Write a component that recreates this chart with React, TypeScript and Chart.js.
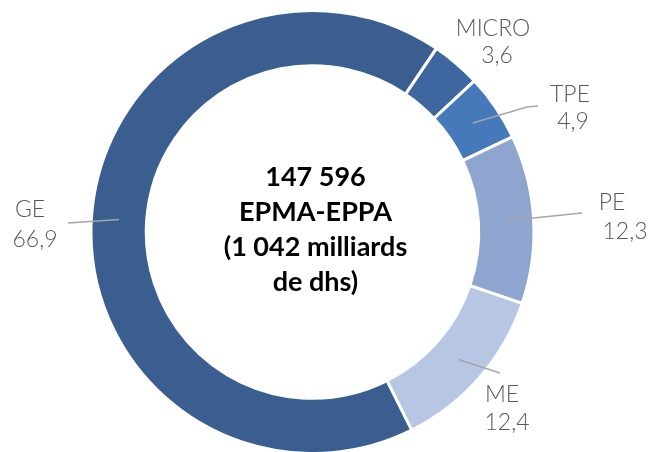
import React, { useEffect, useRef } from "react";
import { Chart, registerables } from "chart.js";

Chart.register(...registerables);

const categories = ["MICRO", "TPE", "PE", "ME", "GE"];
const values = [3.6, 4.9, 12.3, 12.4, 66.9];
const valueLabels = ["3,6", "4,9", "12,3", "12,4", "66,9"];
const colors = ["#3E67A0", "#4679BA", "#8EA6CF", "#B7C6E3", "#3B5E91"];
const centerLines = ["147 596", "EPMA-EPPA", "(1 042 milliards", "de dhs)"];

// label layout, offsets relative to the doughnut centre
const labelLayout = [
  { name: [180.5, -203], value: [184.5, -176], leader: [] as number[][] },
  { name: [257.5, -137], value: [260.5, -110], leader: [[214.5, -125], [225.5, -126]] },
  { name: [299.5, -29], value: [312.5, 0], leader: [[269.5, -19]] },
  { name: [189.5, 163], value: [194.5, 191], leader: [[187.5, 141]] },
  { name: [-282.5, -22], value: [-277.5, 8], leader: [[-244.5, -9]] },
];

const labelPlugin = {
  id: "labelPlugin",
  afterDatasetsDraw(chart: any) {
    const ctx = chart.ctx;
    const meta = chart.getDatasetMeta(0);
    const first = meta.data[0];
    const cx = first.x;
    const cy = first.y;
    ctx.save();
    // leader lines
    ctx.strokeStyle = "#A6A6A6";
    ctx.lineWidth = 1.5;
    meta.data.forEach((arc: any, i: number) => {
      const pts = labelLayout[i].leader;
      if (!pts.length) return;
      const c = arc.getCenterPoint();
      ctx.beginPath();
      ctx.moveTo(c.x, c.y);
      pts.forEach((p) => ctx.lineTo(cx + p[0], cy + p[1]));
      ctx.stroke();
    });
    // labels
    ctx.fillStyle = "#595959";
    ctx.font = "300 23px Lato";
    ctx.textAlign = "center";
    ctx.textBaseline = "middle";
    categories.forEach((name, i) => {
      const l = labelLayout[i];
      ctx.fillText(name, cx + l.name[0], cy + l.name[1]);
      ctx.fillText(valueLabels[i], cx + l.value[0], cy + l.value[1]);
    });
    // centre text
    ctx.fillStyle = "#000000";
    ctx.font = "bold 27px Lato";
    const lh = 35;
    const startY = cy - 55;
    centerLines.forEach((t, i) => {
      ctx.fillText(t, cx + 3, startY + i * lh);
    });
    ctx.restore();
  },
};

export default function App() {
  const ref = useRef<HTMLCanvasElement | null>(null);
  useEffect(() => {
    if (!ref.current) return;
    const chart = new Chart(ref.current, {
      type: "doughnut",
      data: {
        labels: categories,
        datasets: [
          {
            data: values,
            backgroundColor: colors,
            borderColor: "#FFFFFF",
            borderWidth: 3,
          },
        ],
      },
      options: {
        animation: false,
        responsive: false,
        rotation: 34,
        radius: 221.5,
        cutout: 164,
        layout: { padding: { left: 0, right: 27, top: 12, bottom: 0 } },
        plugins: {
          legend: { display: false },
          tooltip: { enabled: false },
        },
      },
      plugins: [labelPlugin],
    });
    return () => chart.destroy();
  }, []);
  return (
    <div style={{ position: "fixed", left: 0, top: 0, width: 652, height: 452, overflow: "hidden", background: "#fff" }}>
      <canvas ref={ref} width={652} height={452} />
    </div>
  );
}
